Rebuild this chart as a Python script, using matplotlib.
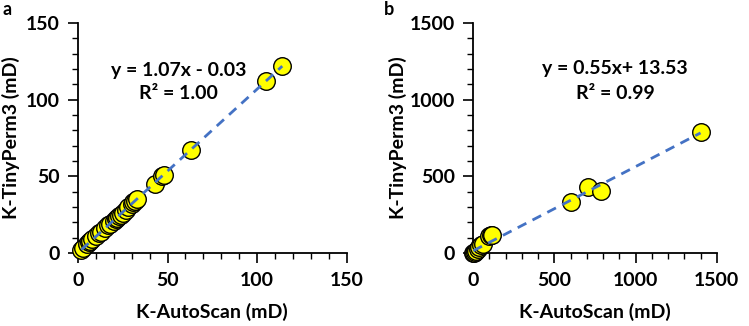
import matplotlib
matplotlib.use("Agg")
import matplotlib.pyplot as plt
import numpy as np
from matplotlib.ticker import MultipleLocator

plt.rcParams['font.family'] = ['Lato', 'DejaVu Sans']
plt.rcParams['font.weight'] = 'bold'

# Panel a data (K-AutoScan, K-TinyPerm3)
a_x = [2, 3, 5, 6, 7, 8, 10, 12, 13, 15, 17, 18, 20, 21, 22, 23, 24, 25, 27, 28, 30, 31, 32, 33, 43, 47, 48, 63, 105, 114]
a_y = [2, 3, 6, 7, 8, 9, 11, 13, 14, 16, 18, 19, 21, 22, 23, 24, 25, 26, 28, 30, 32, 33, 34, 35, 45, 50, 51, 67, 112, 122]
a_slope, a_int = 1.07, -0.03
a_eq = "y = 1.07x - 0.03"
a_r2 = "R² = 1.00"

# Panel b data
b_x = [2, 5, 10, 20, 30, 40, 50, 60, 100, 110, 120, 600, 710, 790, 1400]
b_y = [1, 3, 8, 15, 25, 40, 50, 60, 110, 120, 115, 330, 430, 405, 790]
b_slope, b_int = 0.55, 13.53
b_eq = "y = 0.55x+ 13.53"
b_r2 = "R² = 0.99"

fig = plt.figure(figsize=(7.49, 3.26), dpi=100)

FS = 14

def panel(rect, xs, ys, slope, inter, lim, major, minor, eq, r2, eqpos, letter, letpos, ylabx):
    ax = fig.add_axes(rect)
    xs = np.array(xs); ys = np.array(ys)
    lx = np.array([xs.min(), xs.max()])
    ax.plot(lx, slope * lx + inter, ls=(0, (3.5, 2.5)), color='#4472C4', lw=2, zorder=3)
    ax.scatter(xs, ys, s=160, facecolor='#FFFF00', edgecolor='black', linewidth=1.0, zorder=2, clip_on=False)
    ax.set_xlim(0, lim); ax.set_ylim(0, lim)
    for s in ['top', 'right']:
        ax.spines[s].set_visible(False)
    for s in ['left', 'bottom']:
        ax.spines[s].set_linewidth(1.3)
        ax.spines[s].set_zorder(1)
    ax.xaxis.set_major_locator(MultipleLocator(major))
    ax.yaxis.set_major_locator(MultipleLocator(major))
    ax.xaxis.set_minor_locator(MultipleLocator(minor))
    ax.yaxis.set_minor_locator(MultipleLocator(minor))
    ax.tick_params(which='major', direction='out', length=7, width=1.2, labelsize=FS, pad=6)
    ax.tick_params(axis='x', which='major', pad=7)
    ax.tick_params(which='minor', direction='out', length=4, width=1.0)
    for t in ax.get_xticklabels() + ax.get_yticklabels():
        t.set_fontweight('bold')
    ax.set_xlabel("K-AutoScan (mD)", fontsize=FS, fontweight='bold', labelpad=10)
    ax.set_ylabel("K-TinyPerm3 (mD)", fontsize=FS, fontweight='bold')
    ax.yaxis.set_label_coords(ylabx, 0.5)
    ax.text(eqpos[0], eqpos[1], eq, fontsize=FS, fontweight='bold', ha='center', va='center')
    ax.text(eqpos[0], eqpos[2], r2, fontsize=FS, fontweight='bold', ha='center', va='center')
    fig.text(letpos[0], letpos[1], letter, fontsize=13, fontweight='bold', ha='left', va='top')
    return ax

panel([0.104, 0.224, 0.359, 0.705], a_x, a_y, a_slope, a_int, 150, 50, 10,
      a_eq, a_r2, (56, 119, 104), 'a', (0.004, 0.998), -0.216)
panel([0.6315, 0.224, 0.3255, 0.705], b_x, b_y, b_slope, b_int, 1500, 500, 100,
      b_eq, b_r2, (873, 1206, 1040), 'b', (0.512, 0.998), -0.27)

fig.savefig("out.png", dpi=100)
